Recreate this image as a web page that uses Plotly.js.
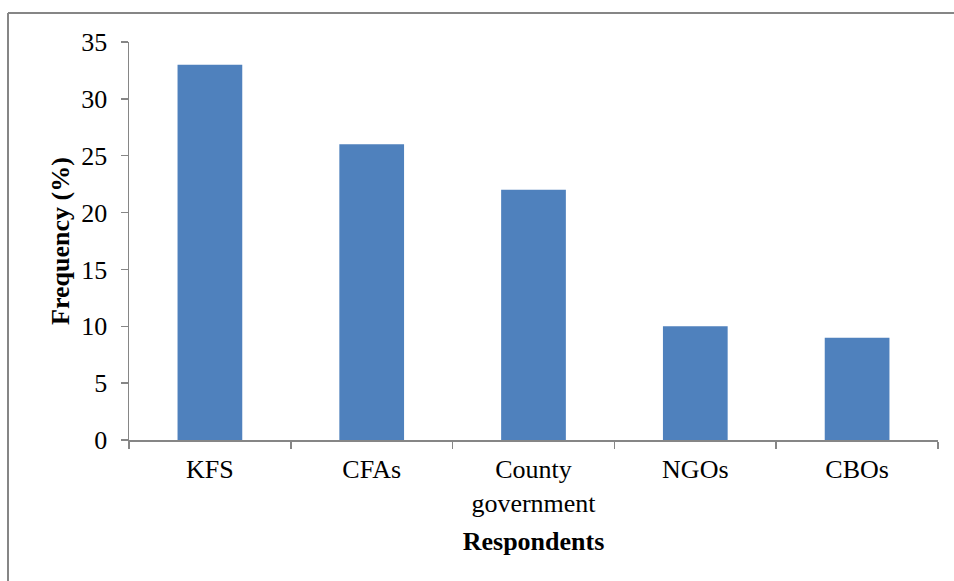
<!DOCTYPE html>
<html>
<head>
<meta charset="utf-8">
<script src="https://cdn.plot.ly/plotly-3.0.1.min.js"></script>
<style>html,body{margin:0;padding:0;background:#fff;}#chart{width:954px;height:581px;}</style>
</head>
<body>
<div id="chart"></div>
<script>
const categories = ["KFS", "CFAs", "County<br>government", "NGOs", "CBOs"];
const frequency = [33, 26, 22, 10, 9];
const yTicks = [0, 5, 10, 15, 20, 25, 30, 35];

const trace = {
  type: "bar",
  x: categories,
  y: frequency,
  marker: {color: "#4F81BD"},
  hoverinfo: "x+y"
};

const axisColor = "#868686";
const FAMILY = "Liberation Serif, Times New Roman, serif";
function f() { return {family: FAMILY, size: 26, color: "#000"}; }

const layout = {
  width: 954,
  height: 581,
  margin: {l: 129, r: 16, t: 42, b: 141},
  paper_bgcolor: "#fff",
  plot_bgcolor: "#fff",
  showlegend: false,
  bargap: 0.6,
  font: f(),
  xaxis: {
    type: "category",
    showline: true,
    linecolor: axisColor,
    linewidth: 1.5,
    ticks: "outside",
    tickson: "boundaries",
    ticklen: 7,
    tickcolor: axisColor,
    tickwidth: 1.5,
    showgrid: false,
    tickfont: f(),
    ticklabelstandoff: 5,
    title: {text: "<b>Respondents</b>", font: f(), standoff: 15}
  },
  yaxis: {
    range: [0, 35],
    tickvals: yTicks,
    showline: true,
    linecolor: axisColor,
    linewidth: 1.5,
    ticks: "outside",
    ticklen: 7,
    tickcolor: axisColor,
    tickwidth: 1.5,
    showgrid: false,
    zeroline: false,
    tickfont: f(),
    ticklabelstandoff: 8,
    title: {text: "<b>Frequency (%)</b>", font: f(), standoff: 4}
  },
  shapes: [
    {type: "line", xref: "paper", yref: "paper", x0: -121/809, x1: 826/809, y0: (581-141-13)/398, y1: (581-141-13)/398, line: {color: axisColor, width: 2}},
    {type: "line", xref: "paper", yref: "paper", x0: -121/809, x1: -121/809, y0: (581-141-13)/398, y1: -150/398, line: {color: axisColor, width: 2}}
  ]
};

Plotly.newPlot("chart", [trace], layout, {displayModeBar: false, staticPlot: true});
</script>
</body>
</html>
